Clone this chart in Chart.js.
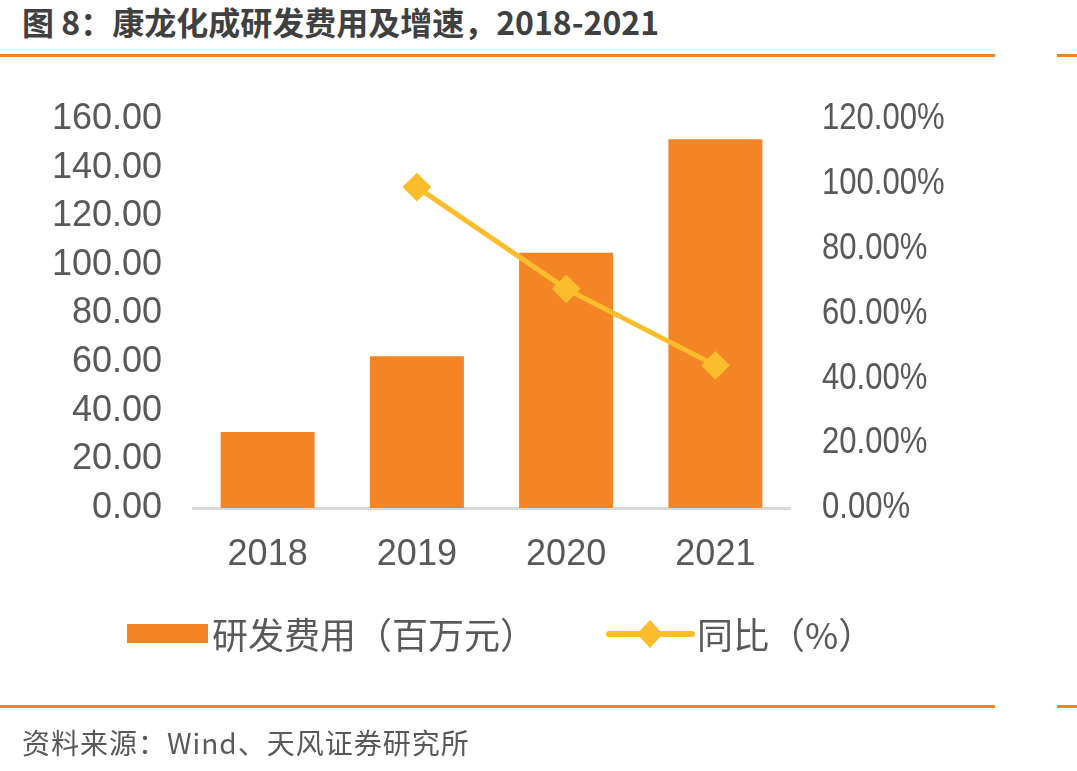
<!DOCTYPE html>
<html>
<head>
<meta charset="utf-8">
<script src="https://cdn.jsdelivr.net/npm/chart.js@4"></script>
<style>
  body { margin: 0; background: #fff; }
  #wrap { position: relative; width: 1077px; height: 771px; overflow: hidden; }
  #chart { position: absolute; left: 0; top: 0; }
  .title { position: absolute; left: 22px; top: -2px; font: bold 32px "Noto Sans CJK SC", sans-serif; color: #404040; white-space: nowrap; }
  .rule { position: absolute; height: 3px; background: #f28423; }
  .source { position: absolute; left: 22px; top: 722px; font: 28px "Noto Sans CJK SC", sans-serif; color: #595959; white-space: nowrap; letter-spacing: 1px; }
</style>
</head>
<body>
<div id="wrap">
  <div class="title">图 8：康龙化成研发费用及增速，2018-2021</div>
  <div class="rule" style="left:0;top:54px;width:995px"></div>
  <div class="rule" style="left:1057px;top:54px;width:20px"></div>
  <canvas id="chart" width="1077" height="771"></canvas>
  <div class="rule" style="left:0;top:705px;width:995px"></div>
  <div class="rule" style="left:1057px;top:705px;width:20px"></div>
  <div class="source">资料来源：Wind、天风证券研究所</div>
</div>
<script>
// datos
const years = ['2018', '2019', '2020', '2021'];
const rdCost = [31.3, 62.4, 105.0, 151.7];   // 百万元
const yoyGrowth = [null, 99.0, 67.6, 44.0];  // %
const leftTicks = [0, 20, 40, 60, 80, 100, 120, 140, 160];
const rightTicks = [0, 20, 40, 60, 80, 100, 120];

const barColor = '#f38524';
const lineColor = '#fbbd2c';
const textColor = '#595959';

// etiquetas del eje derecho, letra estrecha
const rightLabelsPlugin = {
    id: 'rightLabels',
    afterDraw(chart) {
        const s = chart.scales.y1;
        const c = chart.ctx;
        c.save();
        c.font = '37px "Liberation Sans", Arial, sans-serif';
        c.fillStyle = textColor;
        c.textBaseline = 'middle';
        c.textAlign = 'left';
        s.ticks.forEach(t => {
            const y = s.getPixelForValue(t.value);
            c.save();
            c.translate(s.left + 32, y);
            c.scale(0.84, 1);
            c.fillText(t.value.toFixed(2) + '%', 0, 0);
            c.restore();
        });
        c.restore();
    }
};

// leyenda dibujada a mano debajo del eje
const legendPlugin = {
    id: 'customLegend',
    afterDraw(chart) {
        const c = chart.ctx;
        const ds = chart.data.datasets;
        c.save();
        c.font = '36px "Noto Sans CJK TC", "Noto Sans CJK SC", sans-serif';
        c.textBaseline = 'middle';
        // barra
        c.fillStyle = ds[0].backgroundColor;
        c.fillRect(127, 624, 81, 19);
        c.fillStyle = textColor;
        c.fillText(ds[0].label, 212, 635);
        // linea con rombo
        c.strokeStyle = ds[1].borderColor;
        c.lineWidth = 6;
        c.lineCap = 'round';
        c.beginPath();
        c.moveTo(609, 634);
        c.lineTo(692, 634);
        c.stroke();
        c.fillStyle = ds[1].borderColor;
        c.beginPath();
        c.moveTo(650, 620);
        c.lineTo(663, 634);
        c.lineTo(650, 648);
        c.lineTo(637, 634);
        c.closePath();
        c.fill();
        c.fillStyle = textColor;
        c.fillText(ds[1].label, 697, 635);
        c.restore();
    }
};

new Chart(document.getElementById('chart'), {
    type: 'bar',
    data: {
        labels: years,
        datasets: [
            {
                label: '研发费用（百万元）',
                data: rdCost,
                backgroundColor: barColor,
                categoryPercentage: 1,
                barPercentage: 0.63,
                yAxisID: 'y',
                order: 2
            },
            {
                type: 'line',
                label: '同比（%）',
                data: yoyGrowth,
                borderColor: lineColor,
                backgroundColor: lineColor,
                borderWidth: 5,
                pointStyle: 'rectRot',
                pointRadius: 13,
                pointBorderWidth: 2,
                pointBackgroundColor: lineColor,
                pointBorderColor: lineColor,
                yAxisID: 'y1',
                order: 1
            }
        ]
    },
    options: {
        responsive: false,
        animation: false,
        layout: { padding: { left: 0, right: 0, top: 119, bottom: 0 } },
        plugins: {
            legend: { display: false },
            tooltip: { enabled: false }
        },
        scales: {
            x: {
                grid: { display: false, drawTicks: false },
                border: { display: true, color: '#d9d9d9', width: 3 },
                ticks: {
                    color: textColor,
                    padding: 25,
                    font: { family: '"Liberation Sans", Arial, sans-serif', size: 36 }
                },
                afterFit: s => { s.height = 263; }
            },
            y: {
                position: 'left',
                min: leftTicks[0],
                max: leftTicks[leftTicks.length - 1],
                grid: { display: false, drawTicks: false },
                border: { display: false },
                afterBuildTicks: s => { s.ticks = leftTicks.map(v => ({ value: v })); },
                ticks: {
                    color: textColor,
                    padding: 31,
                    font: { family: '"Liberation Sans", Arial, sans-serif', size: 36 },
                    callback: v => v.toFixed(2)
                },
                afterFit: s => { s.width = 193; }
            },
            y1: {
                position: 'right',
                min: rightTicks[0],
                max: rightTicks[rightTicks.length - 1],
                grid: { display: false, drawTicks: false },
                border: { display: false },
                afterBuildTicks: s => { s.ticks = rightTicks.map(v => ({ value: v })); },
                ticks: { display: false },
                afterFit: s => { s.width = 287; }
            }
        }
    },
    plugins: [rightLabelsPlugin, legendPlugin]
});
</script>
</body>
</html>
